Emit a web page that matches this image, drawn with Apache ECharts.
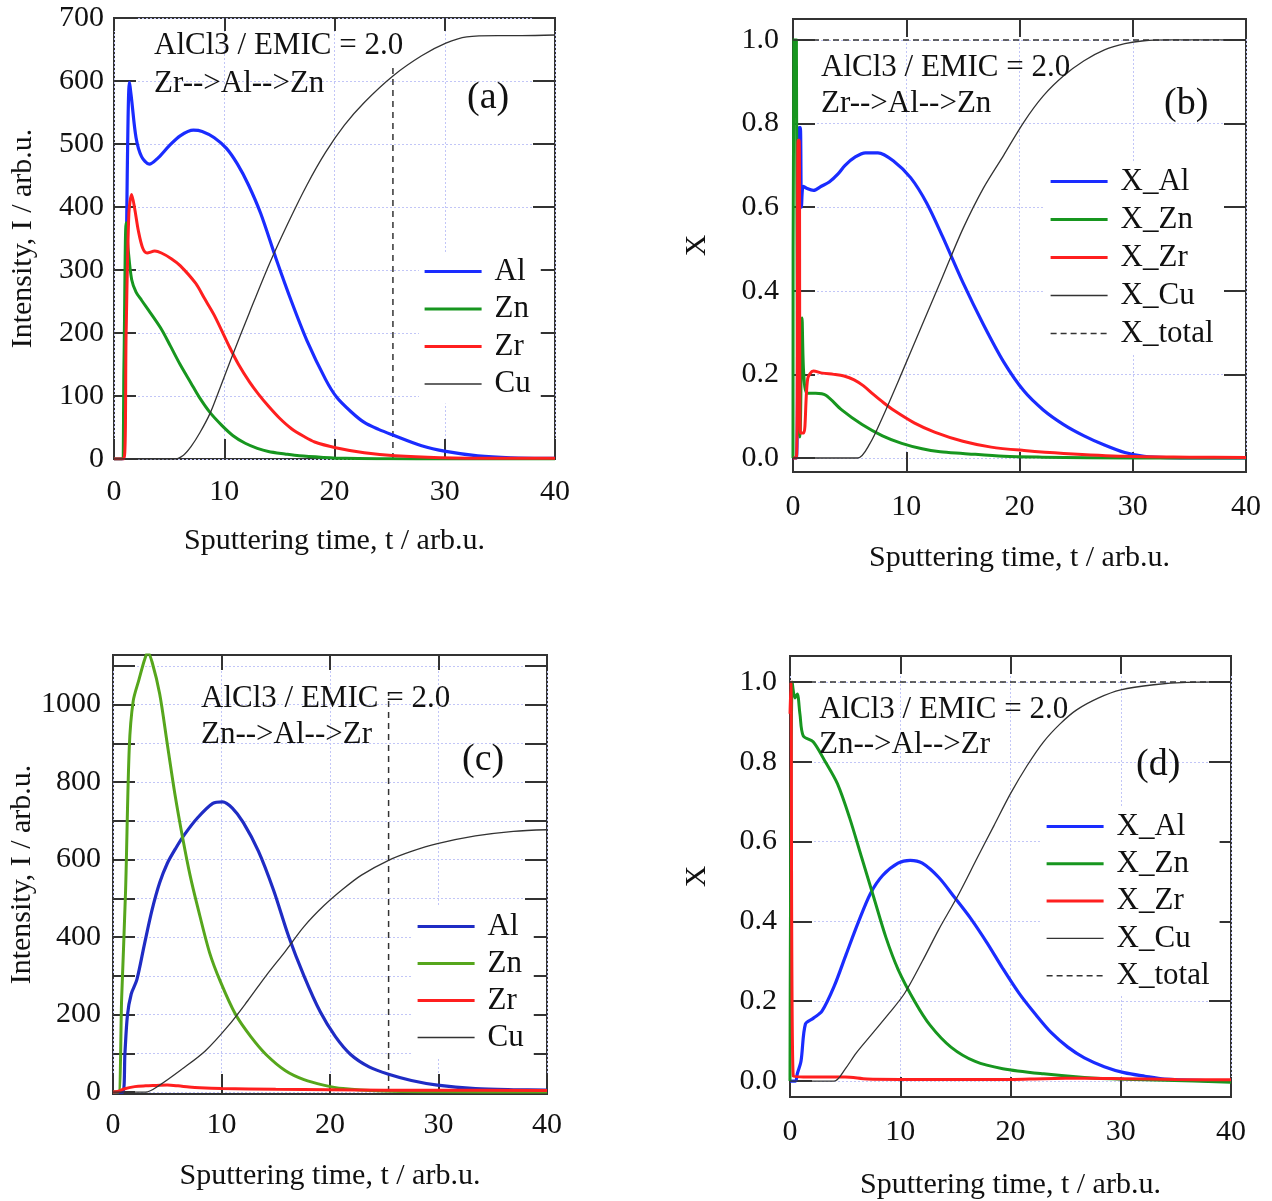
<!DOCTYPE html>
<html><head><meta charset="utf-8">
<script src="https://cdn.jsdelivr.net/npm/echarts@6/dist/echarts.min.js"></script>
<style>html,body{margin:0;padding:0;background:#fff}#c{width:1272px;height:1201px}</style>
</head><body><div id="c"></div>
<script>
// ---------- DATA (t, value) ----------
// (a) Intensity, Zr-->Al-->Zn
const aAl = [[0,0],[0.8,0],[1.0,150],[1.2,450],[1.4,598],[1.6,570],[2.0,510],[2.5,480],[3.2,468],[4,478],[5,497],[6,513],[7.2,522],[8,520],[9.1,510],[10.2,493],[11.2,468],[12.2,435],[13.3,390],[14.7,318],[16.1,250],[17.5,188],[19.2,126],[20.2,98],[21.5,75],[22.7,58],[24,47],[25.3,38],[27.9,21],[30.1,12],[33,5],[36,2],[40,1]];
const aZn = [[0,0],[0.7,0],[0.9,150],[1.1,375],[1.3,330],[1.6,285],[2.0,265],[2.5,252],[3.3,232],[4.3,206],[5.1,180],[6,150],[7,120],[7.7,99],[8.7,74],[9.8,53],[10.8,37],[11.9,25],[13,17],[14,12],[15.5,8],[16.8,5],[19,2.5],[21,1],[25,0.5],[30,0],[40,0]];
const aZr = [[0,0],[0.9,0],[1.1,200],[1.35,390],[1.6,420],[1.9,395],[2.2,363],[2.6,335],[3,327],[3.7,330],[4.3,327],[5.2,318],[6,307],[7.4,279],[8.2,255],[9.1,228],[10.5,177],[11.3,150],[12.3,122],[13.1,103],[14,84],[15,65],[16.1,48],[17.2,36],[18.2,27],[20.1,18],[22.7,10],[25.5,5],[29.6,2],[35,1],[40,1]];
const aCu = [[0,0],[5.5,0],[6.3,6],[7,20],[7.8,42],[8.7,72],[9.6,112],[10.6,158],[12.3,233],[14.1,310],[15.8,375],[17.5,435],[19.2,487],[20.9,530],[22.7,566],[25.3,608],[27.9,640],[30.1,660],[32,670],[34.8,672],[37,672],[40,673]];
const aMark = [[25.3,0],[25.3,625]];
// (b) Atomic fraction X, Zr-->Al-->Zn
const bAl = [[0,0],[0.3,0],[0.45,0.6],[0.55,0.79],[0.65,0.79],[0.75,0.6],[0.9,0.65],[1.2,0.645],[1.8,0.64],[2.5,0.65],[3.2,0.66],[4,0.68],[4.6,0.70],[5.5,0.72],[6.4,0.73],[7.5,0.73],[8.9,0.71],[10.4,0.67],[11.8,0.61],[13.2,0.53],[15,0.42],[16.8,0.32],[18.6,0.23],[20.4,0.16],[22.1,0.115],[23.9,0.08],[25.7,0.053],[27.5,0.031],[29.3,0.013],[31,0.004],[33,0.001],[40,0]];
const bZn = [[0,0],[0.08,1.0],[0.3,1.0],[0.4,0.1],[0.6,0.05],[0.8,0.335],[0.95,0.2],[1.25,0.155],[2,0.155],[2.9,0.15],[4.3,0.115],[6.1,0.08],[7.9,0.053],[9.6,0.035],[11.4,0.022],[13,0.015],[15,0.011],[18.6,0.004],[22,0.002],[30,0],[40,0]];
const bZr = [[0,0],[0.3,0],[0.45,0.76],[0.55,0.76],[0.65,0.06],[0.95,0.06],[1.3,0.19],[1.8,0.208],[2.6,0.203],[3.6,0.2],[4.5,0.196],[5.4,0.187],[6.2,0.173],[7.1,0.152],[8,0.132],[8.9,0.114],[10.7,0.084],[12.5,0.062],[15,0.04],[17.5,0.026],[20.4,0.018],[23.9,0.011],[29.3,0.004],[35,0.002],[40,0.001]];
const bCu = [[0,0],[5.7,0],[6.8,0.035],[7.9,0.097],[9.6,0.203],[11.4,0.318],[13.2,0.433],[15,0.548],[16.8,0.645],[18.6,0.724],[20.4,0.804],[22.1,0.866],[23.9,0.914],[25.7,0.95],[27.5,0.976],[29.3,0.991],[31,0.998],[33,1.0],[40,1.0]];
const bTotal = [[0,1.0],[10,1.0],[20,1.0],[30,1.0],[40,1.0]];
// (c) Intensity, Zn-->Al-->Zr
const cAl = [[0,0],[0.9,0],[1.1,100],[1.33,198],[1.68,253],[2.2,290],[2.9,382],[3.6,470],[4.3,540],[5.0,590],[5.8,630],[6.6,665],[7.8,708],[9.2,745],[10.1,749],[11,733],[12,696],[13.4,622],[14.8,521],[16.2,401],[17.6,300],[19.1,207],[20.5,143],[21.9,97],[23.6,65],[25.4,46],[27.5,30],[29.9,18],[33.4,9],[36.9,6],[40,5]];
const cZn = [[0,0],[0.5,0],[0.8,244],[1.16,521],[1.5,889],[1.86,1009],[2.4,1065],[2.9,1115],[3.2,1135],[3.6,1110],[4.3,1028],[5,899],[5.7,770],[6.4,659],[7.1,560],[7.8,478],[8.9,360],[9.9,285],[11.3,200],[12.7,143],[14.1,97],[15.9,55],[17.6,32],[19.4,18],[21.2,9],[24.7,3],[30,1],[40,0]];
const cZr = [[0,0],[0.5,2],[1,8],[2,14],[3,16],[4,17],[5,18],[6,16],[7,13],[8,11],[10,9],[15,7],[20,6],[25,5],[30,5],[40,4]];
const cCu = [[0,0],[3,0],[4.3,18],[6.4,60],[8.5,106],[10.6,170],[12.4,235],[14.1,300],[15.9,364],[17.6,427],[19.4,480],[21.2,524],[22.9,560],[25.4,598],[27.5,621],[29.9,641],[33.4,661],[36.9,673],[40,677]];
const cMark = [[25.4,0],[25.4,1030]];
// (d) Atomic fraction X, Zn-->Al-->Zr
const dAl = [[0,0],[0.5,0],[0.66,0.018],[1.0,0.05],[1.4,0.143],[2.1,0.157],[2.9,0.175],[4.0,0.237],[5.1,0.318],[6.2,0.398],[7.3,0.47],[8.4,0.515],[9.8,0.546],[10.9,0.553],[12,0.546],[13.5,0.51],[14.9,0.461],[16.4,0.407],[17.9,0.345],[19.3,0.282],[20.8,0.219],[22.3,0.166],[23.7,0.121],[25.2,0.085],[26.7,0.058],[28.5,0.036],[30.3,0.021],[32.2,0.012],[34,0.005],[37.7,0.001],[40,0]];
const dZn = [[0,0],[0.2,1.0],[0.45,0.96],[0.66,0.97],[0.9,0.92],[1.2,0.865],[2.1,0.85],[3.2,0.80],[4.3,0.745],[5.4,0.66],[6.5,0.56],[7.6,0.46],[8.7,0.36],[9.8,0.28],[11.3,0.20],[12.7,0.14],[14.6,0.085],[16.8,0.049],[19.3,0.031],[23,0.018],[26.7,0.009],[30.3,0.0045],[34,0.002],[40,-0.003]];
const dZr = [[0,0.92],[0.08,1.0],[0.3,0.012],[2,0.01],[5,0.01],[7,0.005],[10,0.004],[15,0.004],[20,0.004],[23,0.006],[27,0.007],[30,0.006],[35,0.004],[40,0.003]];
const dCu = [[0,0],[4,0],[5,0.03],[6,0.07],[7.5,0.12],[9,0.17],[10.4,0.22],[12,0.30],[13.5,0.38],[15.3,0.468],[17,0.56],[18.5,0.64],[20,0.72],[21.5,0.79],[23,0.85],[24.5,0.895],[26,0.93],[28,0.96],[30,0.98],[33,0.993],[36,0.999],[40,1.0]];
const dTotal = [[0,1.0],[10,1.0],[20,1.0],[30,1.0],[40,1.0]];

// ---------- tick / label values ----------
const xLabels = [0,10,20,30,40];
const intLabelsA = [0,100,200,300,400,500,600,700];
const intTicksC = [0,100,200,300,400,500,600,700,800,900,1000,1100];
const intLabelsC = [0,200,400,600,800,1000];
const fracLabels = [0,0.2,0.4,0.6,0.8,1.0];
const xTitle = 'Sputtering time, t / arb.u.';
const intTitle = 'Intensity, I / arb.u.';
const ratioText = 'AlCl3 / EMIC = 2.0';

// ---------- styles ----------
const FONT = '"Liberation Serif", "Times New Roman", serif';
const TXT = '#111';
const BLUE = '#1a2cff', GREEN = '#17961f', RED = '#ff1f1f', CU = '#333';
const BLUE_C = '#1f2cc4', GREEN_C = '#56a61c';
const GRIDLINE = {color:'#c2c6f7', type:[2,2], width:1};

const panels = [
  {key:'a', box:{left:114, top:18, width:441, height:441}, ymin:0, ymax:700, yTicks:intLabelsA, yLabels:intLabelsA, yFmt:v=>String(v),
   yName:intTitle, yNameGap:76, xNameGap:67, xLabMargin:18, yLabMargin:10, xTopLen:13,
   series:[['Al',aAl,BLUE,3.2],['Zn',aZn,GREEN,3],['Zr',aZr,RED,3],['Cu',aCu,CU,1.3]], extra:[[aMark,'mark']],
   legend:{left:419, top:252, gap:6.5},
   texts:[[154,46,ratioText,31],[154,84,'Zr-->Al-->Zn',31],[467,98,'(a)',38]]},
  {key:'b', box:{left:793, top:19, width:453, height:453}, ymin:-0.0335, ymax:1.05, yTicks:fracLabels, yLabels:fracLabels, yFmt:v=>v.toFixed(1),
   yName:'X', yNameGap:81, xNameGap:71, xLabMargin:20, yLabMargin:14, xTopLen:18,
   series:[['X_Al',bAl,BLUE,3.2],['X_Zn',bZn,GREEN,3],['X_Zr',bZr,RED,3],['X_Cu',bCu,CU,1.3],['X_total',bTotal,CU,1.5,'dash']], extra:[],
   legend:{left:1045, top:162, gap:7},
   texts:[[821,68,ratioText,31],[821,104,'Zr-->Al-->Zn',31],[1164,104,'(b)',38]]},
  {key:'c', box:{left:113, top:655, width:434, height:439}, ymin:-5, ymax:1128, yTicks:intTicksC, yLabels:intLabelsC, yFmt:v=>String(v),
   yName:intTitle, yNameGap:75, xNameGap:67, xLabMargin:16, yLabMargin:12, xTopLen:15,
   series:[['Al',cAl,BLUE_C,3.2],['Zn',cZn,GREEN_C,3],['Zr',cZr,RED,3],['Cu',cCu,CU,1.3]], extra:[[cMark,'mark']],
   legend:{left:412, top:907, gap:6},
   texts:[[201,699,ratioText,31],[201,735,'Zn-->Al-->Zr',31],[462,760,'(c)',38]]},
  {key:'d', box:{left:790, top:656, width:441, height:441}, ymin:-0.04, ymax:1.065, yTicks:fracLabels, yLabels:fracLabels, yFmt:v=>v.toFixed(1),
   yName:'X', yNameGap:78, xNameGap:73, xLabMargin:20, yLabMargin:13, xTopLen:18,
   series:[['X_Al',dAl,BLUE,3.2],['X_Zn',dZn,GREEN,3],['X_Zr',dZr,RED,3],['X_Cu',dCu,CU,1.3],['X_total',dTotal,CU,1.5,'dash']], extra:[],
   legend:{left:1041, top:807, gap:6.3},
   texts:[[819,710,ratioText,31],[819,745,'Zn-->Al-->Zr',31],[1136,765,'(d)',38]]}
];

const grid = [], xAxis = [], yAxis = [], series = [], legend = [], graphic = [];
const labelStyle = {fontFamily:FONT, fontSize:30, color:TXT};
const tickLine = {color:'#333', width:2};
const noLine = {show:false, onZero:false};

panels.forEach((p, gi) => {
  grid.push(Object.assign({show:true, borderColor:'#333', borderWidth:2, backgroundColor:'transparent'}, p.box));
  xAxis.push({type:'value', gridIndex:gi, position:'bottom', min:0, max:40,
    axisLine:noLine,
    axisTick:{show:true, inside:true, length:20, lineStyle:tickLine, customValues:xLabels},
    axisLabel:Object.assign({customValues:xLabels, margin:p.xLabMargin, showMinLabel:true, showMaxLabel:true}, labelStyle),
    splitLine:{show:true, lineStyle:GRIDLINE},
    name:xTitle, nameLocation:'middle', nameGap:p.xNameGap, nameTextStyle:labelStyle});
  xAxis.push({type:'value', gridIndex:gi, position:'top', min:0, max:40,
    axisLine:noLine,
    axisTick:{show:true, inside:true, length:p.xTopLen, lineStyle:tickLine, customValues:xLabels},
    axisLabel:{show:false}, splitLine:{show:false}});
  yAxis.push({type:'value', gridIndex:gi, position:'left', min:p.ymin, max:p.ymax,
    axisLine:noLine,
    axisTick:{show:true, inside:true, length:22, lineStyle:tickLine, customValues:p.yTicks},
    axisLabel:Object.assign({customValues:p.yLabels, margin:p.yLabMargin, formatter:p.yFmt, showMinLabel:true, showMaxLabel:true}, labelStyle),
    splitLine:{show:true, lineStyle:GRIDLINE},
    name:p.yName, nameLocation:'middle', nameGap:p.yNameGap, nameRotate:90, nameTextStyle:labelStyle});
  yAxis.push({type:'value', gridIndex:gi, position:'right', min:p.ymin, max:p.ymax,
    axisLine:noLine,
    axisTick:{show:true, inside:true, length:22, lineStyle:tickLine, customValues:p.yTicks},
    axisLabel:{show:false}, splitLine:{show:false}});

  const items = [];
  p.series.forEach(([name, data, color, width, kind]) => {
    const full = p.key + ':' + name;
    items.push({name:full, lineStyle:{width:width, color:color, type:kind === 'dash' ? [6,4] : 'solid'}});
    series.push({name:full, type:'line', xAxisIndex:2*gi, yAxisIndex:2*gi, data:data,
      showSymbol:false, symbol:'none', smooth:kind === 'dash' ? false : 0.3,
      clip:true, animation:false,
      lineStyle:{color:color, width:width, type:kind === 'dash' ? [6,4] : 'solid'},
      itemStyle:{color:color}, z:3});
  });
  p.extra.forEach(([data]) => {
    series.push({name:p.key + ':mark', type:'line', xAxisIndex:2*gi, yAxisIndex:2*gi, data:data,
      symbol:'none', animation:false, silent:true,
      lineStyle:{color:'#333', width:1.5, type:[6,5]}, z:2});
  });
  legend.push({data:items, orient:'vertical', left:p.legend.left, top:p.legend.top,
    itemGap:p.legend.gap, itemWidth:57, itemHeight:14, padding:[4,10,4,4],
    backgroundColor:'#fff', selectedMode:false,
    itemStyle:{opacity:0},
    formatter:n => n.slice(2),
    textStyle:{fontFamily:FONT, fontSize:31, color:TXT, lineHeight:30, padding:[0,0,0,8]}});
  p.texts.forEach(([x, y, text, size]) => {
    graphic.push({type:'text', x:x, y:y, z:10, silent:true,
      style:{text:text, font:size + 'px ' + FONT, fill:TXT, verticalAlign:'middle', align:'left'}});
  });
});

const chart = echarts.init(document.getElementById('c'), null, {renderer:'canvas'});
chart.setOption({animation:false, backgroundColor:'#fff', grid, xAxis, yAxis, series, legend, graphic});
</script></body></html>
